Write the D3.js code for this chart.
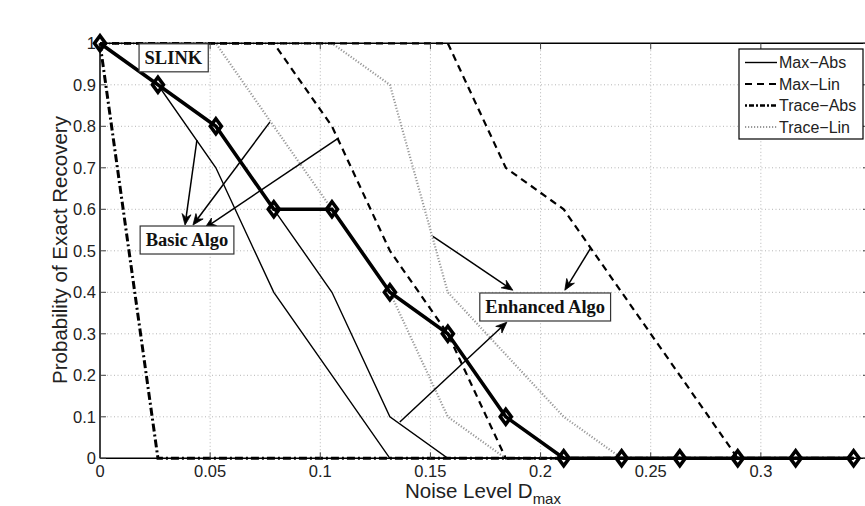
<!DOCTYPE html>
<html>
<head>
<meta charset="utf-8">
<script src="https://cdn.jsdelivr.net/npm/d3@7"></script>
<style>
  body { margin: 0; background: #fff; }
  svg { display: block; }
</style>
</head>
<body>
<svg id="chart" width="865" height="506"></svg>
<script>
// Noise levels D_max at which recovery was measured
const noiseLevels = [0, 0.0263, 0.0526, 0.0789, 0.1053, 0.1316, 0.1579,
                     0.1842, 0.2105, 0.2368, 0.2632, 0.2895, 0.3158, 0.3421];

// Probability of exact recovery per method
const slink            = [1, 0.9, 0.8, 0.6, 0.6, 0.4, 0.3, 0.1, 0, 0, 0, 0, 0, 0];
const basicMaxAbs      = [1, 0.9, 0.7, 0.4, 0.2, 0, 0, 0, 0, 0, 0, 0, 0, 0];
const enhancedMaxAbs   = [1, 0.9, 0.8, 0.6, 0.4, 0.1, 0, 0, 0, 0, 0, 0, 0, 0];
const basicMaxLin      = [1, 1, 1, 1, 0.8, 0.5, 0.3, 0, 0, 0, 0, 0, 0, 0];
const enhancedMaxLin   = [1, 1, 1, 1, 1, 1, 1, 0.7, 0.6, 0.4, 0.2, 0, 0, 0];
const traceAbs         = [1, 0, 0, 0, 0, 0, 0, 0, 0, 0, 0, 0, 0, 0];
const basicTraceLin    = [1, 1, 1, 0.8, 0.6, 0.4, 0.1, 0, 0, 0, 0, 0, 0, 0];
const enhancedTraceLin = [1, 1, 1, 1, 1, 0.9, 0.4, 0.25, 0.1, 0, 0, 0, 0, 0];

// Axis ticks
const xTicks = [0, 0.05, 0.1, 0.15, 0.2, 0.25, 0.3];
const xTickLabels = ["0", "0.05", "0.1", "0.15", "0.2", "0.25", "0.3"];
const yTicks = [0, 0.1, 0.2, 0.3, 0.4, 0.5, 0.6, 0.7, 0.8, 0.9, 1];
const yTickLabels = ["0", "0.1", "0.2", "0.3", "0.4", "0.5", "0.6", "0.7", "0.8", "0.9", "1"];

// Legend entries
const legendLabels = ["Max\u2212Abs", "Max\u2212Lin", "Trace\u2212Abs", "Trace\u2212Lin"];

// Annotation arrows, [x1, y1, x2, y2] in data units (tail -> head)
const basicArrows = [
  [0.0440, 0.767, 0.0386, 0.562],
  [0.0771, 0.810, 0.0422, 0.562],
  [0.1084, 0.772, 0.0476, 0.555]
];
const enhancedArrows = [
  [0.1511, 0.535, 0.1874, 0.405],
  [0.2228, 0.507, 0.2110, 0.405],
  [0.1361, 0.0875, 0.1847, 0.328]
];
// Annotation box centres in data units
const boxLabels = [
  { text: "SLINK",         x: 0.0333, y: 0.965 },
  { text: "Basic Algo",    x: 0.0395, y: 0.526 },
  { text: "Enhanced Algo", x: 0.2021, y: 0.3646 }
];

const svg = d3.select("#chart");
const x = d3.scaleLinear().domain([0, 0.35]).range([100, 871]);
const y = d3.scaleLinear().domain([0, 1]).range([458.3, 43.3]);
const x0 = x.range()[0], x1 = x.range()[1];
const yb = y.range()[0], yt = y.range()[1];

const styles = {
  maxAbs:   { stroke: "#000", width: 1.4, dash: null },
  maxLin:   { stroke: "#000", width: 2.2, dash: "7,5" },
  traceAbs: { stroke: "#000", width: 3, dash: "8,3,2,3" },
  traceLin: { stroke: "#999", width: 2.2, dash: "1.2,1.8" }
};

// Grid
const grid = svg.append("g");
grid.selectAll("line.gx").data(xTicks.slice(1)).join("line")
  .attr("x1", d => x(d)).attr("x2", d => x(d)).attr("y1", yt).attr("y2", yb)
  .attr("stroke", "#b5b5b5").attr("stroke-width", 1).attr("stroke-dasharray", "1,2.5");
grid.selectAll("line.gy").data(yTicks.slice(1, -1)).join("line")
  .attr("x1", x0).attr("x2", x1).attr("y1", d => y(d)).attr("y2", d => y(d))
  .attr("stroke", "#b5b5b5").attr("stroke-width", 1).attr("stroke-dasharray", "1,2.5");

const line = d3.line().x((d, i) => x(noiseLevels[i])).y(d => y(d));

function drawSeries(values, st) {
  svg.append("path").datum(values)
    .attr("d", line).attr("fill", "none")
    .attr("stroke", st.stroke).attr("stroke-width", st.width)
    .attr("stroke-dasharray", st.dash).attr("stroke-linejoin", "miter");
}

drawSeries(basicTraceLin, styles.traceLin);
drawSeries(enhancedTraceLin, styles.traceLin);
drawSeries(basicMaxLin, styles.maxLin);
drawSeries(enhancedMaxLin, styles.maxLin);
drawSeries(traceAbs, styles.traceAbs);
drawSeries(basicMaxAbs, styles.maxAbs);
drawSeries(enhancedMaxAbs, styles.maxAbs);

// Axes box and ticks
const axes = svg.append("g");
axes.append("line").attr("x1", x0).attr("x2", x1).attr("y1", yt).attr("y2", yt).attr("stroke", "#000").attr("stroke-width", 1.5);
axes.append("line").attr("x1", x0).attr("x2", x1).attr("y1", yb).attr("y2", yb).attr("stroke", "#000").attr("stroke-width", 1.5);
axes.append("line").attr("x1", x0).attr("x2", x0).attr("y1", yt).attr("y2", yb).attr("stroke", "#000").attr("stroke-width", 1.5);
axes.append("line").attr("x1", x1).attr("x2", x1).attr("y1", yt).attr("y2", yb).attr("stroke", "#000").attr("stroke-width", 1.5);

const tickLen = 6;
xTicks.forEach(t => {
  axes.append("line").attr("x1", x(t)).attr("x2", x(t)).attr("y1", yb).attr("y2", yb - tickLen).attr("stroke", "#444");
  axes.append("line").attr("x1", x(t)).attr("x2", x(t)).attr("y1", yt).attr("y2", yt + tickLen).attr("stroke", "#444");
});
yTicks.forEach(t => {
  axes.append("line").attr("x1", x0).attr("x2", x0 + tickLen).attr("y1", y(t)).attr("y2", y(t)).attr("stroke", "#444");
  axes.append("line").attr("x1", x1 - 8).attr("x2", x1).attr("y1", y(t)).attr("y2", y(t)).attr("stroke", "#444");
});

// SLINK curve with diamond markers
svg.append("path").datum(slink).attr("d", line).attr("fill", "none")
  .attr("stroke", "#000").attr("stroke-width", 3.6).attr("stroke-linejoin", "miter");
svg.append("g").selectAll("path").data(slink).join("path")
  .attr("d", "M0,-7.5L5.5,0L0,7.5L-5.5,0Z")
  .attr("transform", (d, i) => `translate(${x(noiseLevels[i])},${y(d)})`)
  .attr("fill", "none").attr("stroke", "#000").attr("stroke-width", 3.6)
  .attr("stroke-linejoin", "miter");

// Tick labels
const font = "Liberation Sans, Arial, Helvetica, sans-serif";
svg.append("g").selectAll("text").data(xTicks).join("text")
  .attr("x", d => x(d)).attr("y", 477).attr("text-anchor", "middle")
  .attr("font-family", font).attr("font-size", 16.5).attr("fill", "#222")
  .text((d, i) => xTickLabels[i]);
svg.append("g").selectAll("text").data(yTicks).join("text")
  .attr("x", 96).attr("y", d => y(d) + 6).attr("text-anchor", "end")
  .attr("font-family", font).attr("font-size", 16.5).attr("fill", "#222")
  .text((d, i) => yTickLabels[i]);

// Axis titles
const xl = svg.append("text").attr("x", 405).attr("y", 498)
  .attr("font-family", font).attr("font-size", 20.5).attr("fill", "#222");
xl.append("tspan").text("Noise Level D");
xl.append("tspan").attr("dy", 6).attr("font-size", 15).text("max");
svg.append("text").attr("transform", "translate(67,250) rotate(-90)")
  .attr("text-anchor", "middle").attr("font-family", font).attr("font-size", 20.5)
  .attr("fill", "#222").text("Probability of Exact Recovery");

// Arrows
function arrow(a) {
  const ax = x(a[0]), ay = y(a[1]), bx = x(a[2]), by = y(a[3]);
  const dx = bx - ax, dy = by - ay, L = Math.hypot(dx, dy);
  const ux = dx / L, uy = dy / L, px = -uy, py = ux;
  const hl = 11, hw = 4.5, notch = 7.5;
  const g = svg.append("g");
  g.append("line").attr("x1", ax).attr("y1", ay)
    .attr("x2", bx - ux * notch).attr("y2", by - uy * notch)
    .attr("stroke", "#000").attr("stroke-width", 1.5);
  const pts = [
    [bx, by],
    [bx - ux * hl + px * hw, by - uy * hl + py * hw],
    [bx - ux * notch, by - uy * notch],
    [bx - ux * hl - px * hw, by - uy * hl - py * hw]
  ];
  g.append("path").attr("d", "M" + pts.map(p => p.join(",")).join("L") + "Z")
    .attr("fill", "#000").attr("stroke", "#000").attr("stroke-width", 0.8);
}
basicArrows.forEach(arrow);
enhancedArrows.forEach(arrow);

// Annotation boxes
const serif = "Liberation Serif, Times New Roman, serif";
boxLabels.forEach(b => {
  const g = svg.append("g");
  const rect = g.append("rect");
  const t = g.append("text").attr("x", x(b.x)).attr("y", y(b.y) + 6)
    .attr("text-anchor", "middle").attr("font-family", serif)
    .attr("font-weight", "bold").attr("font-size", 18.5).attr("fill", "#111").text(b.text);
  const bb = t.node().getBBox();
  rect.attr("x", bb.x - 5.5).attr("width", bb.width + 11)
    .attr("y", y(b.y) - 14).attr("height", 28)
    .attr("fill", "#fff").attr("stroke", "#333").attr("stroke-width", 1.2);
});

// Legend
const lg = svg.append("g");
lg.append("rect").attr("x", 739).attr("y", 49).attr("width", 124).attr("height", 90)
  .attr("fill", "#fff").attr("stroke", "#000").attr("stroke-width", 1.2);
const legendStyles = [styles.maxAbs, styles.maxLin, styles.traceAbs, styles.traceLin];
legendLabels.forEach((lab, i) => {
  const ly = 62.5 + i * 21.5;
  const st = legendStyles[i];
  lg.append("line").attr("x1", 745).attr("x2", 777).attr("y1", ly).attr("y2", ly)
    .attr("stroke", st.stroke).attr("stroke-width", i === 2 ? 2.4 : st.width)
    .attr("stroke-dasharray", i === 2 ? "2,2,5,2" : st.dash);
  lg.append("text").attr("x", 779).attr("y", ly + 5.5)
    .attr("font-family", font).attr("font-size", 16).attr("fill", "#222").text(lab);
});
</script>
</body>
</html>
